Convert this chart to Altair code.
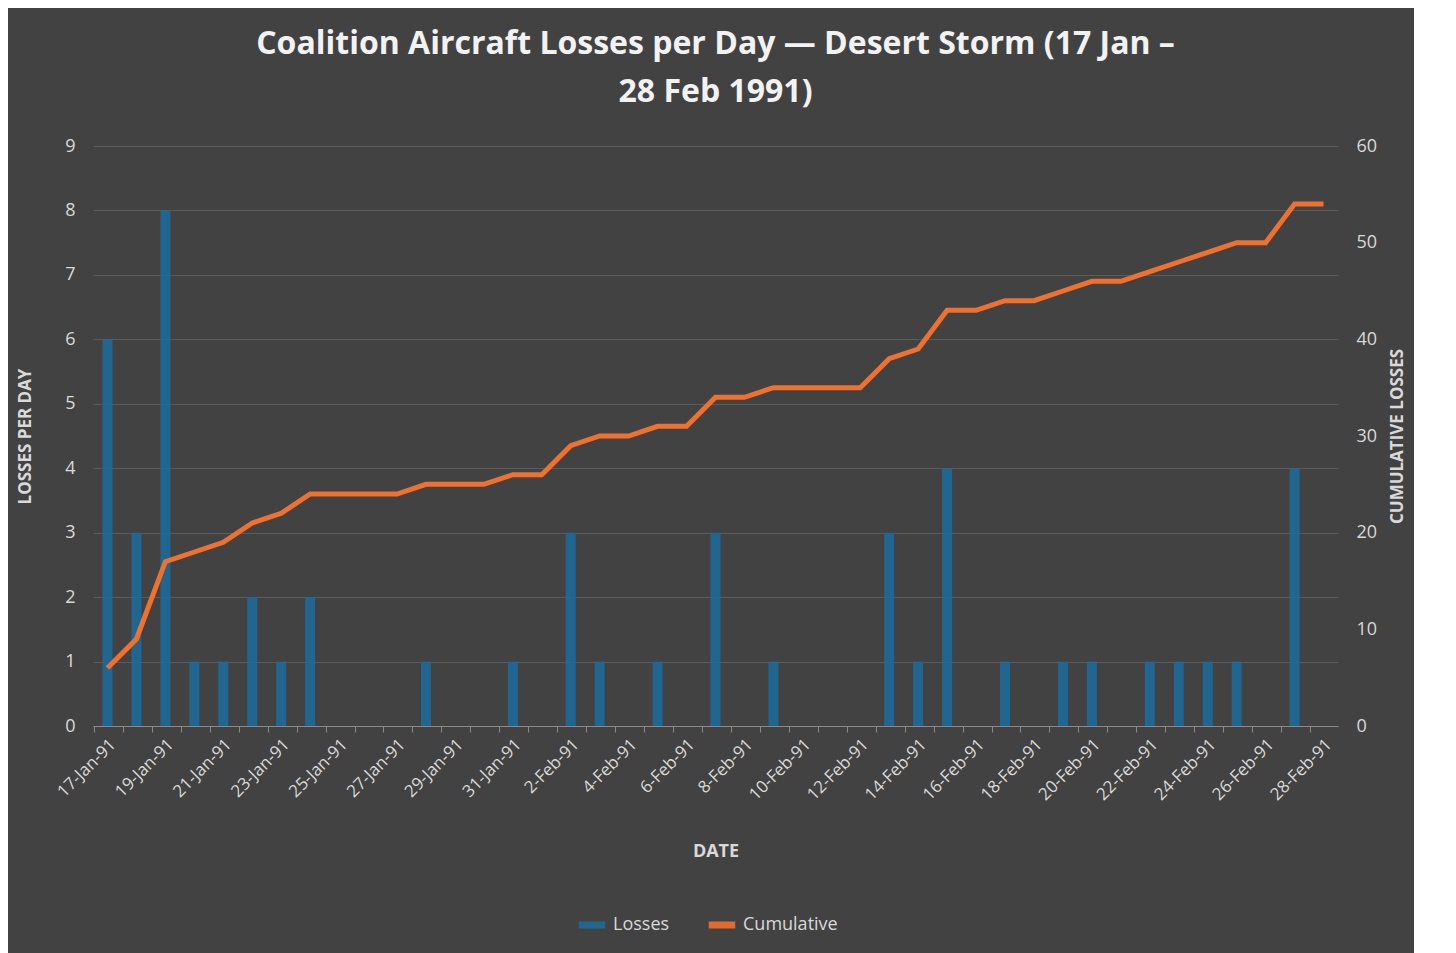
import altair as alt
import pandas as pd

dates = ["17-Jan-91","18-Jan-91","19-Jan-91","20-Jan-91","21-Jan-91","22-Jan-91","23-Jan-91","24-Jan-91","25-Jan-91","26-Jan-91","27-Jan-91","28-Jan-91","29-Jan-91","30-Jan-91","31-Jan-91",
         "1-Feb-91","2-Feb-91","3-Feb-91","4-Feb-91","5-Feb-91","6-Feb-91","7-Feb-91","8-Feb-91","9-Feb-91","10-Feb-91","11-Feb-91","12-Feb-91","13-Feb-91","14-Feb-91","15-Feb-91",
         "16-Feb-91","17-Feb-91","18-Feb-91","19-Feb-91","20-Feb-91","21-Feb-91","22-Feb-91","23-Feb-91","24-Feb-91","25-Feb-91","26-Feb-91","27-Feb-91","28-Feb-91"]
losses = [6,3,8,1,1,2,1,2,0,0,0,1,0,0,1,0,3,1,0,1,0,3,0,1,0,0,0,3,1,4,0,1,0,1,1,0,1,1,1,1,0,4,0]
cumulative = [6,9,17,18,19,21,22,24,24,24,24,25,25,25,26,26,29,30,30,31,31,34,34,35,35,35,35,38,39,43,43,44,44,45,46,46,47,48,49,50,50,54,54]

df = pd.DataFrame({"d": list(range(len(dates))), "Losses": losses, "Cumulative": cumulative,
                   "s1": "Losses", "s2": "Cumulative"})
labels = [x if i % 2 == 0 else "" for i, x in enumerate(dates)]
label_expr = "[" + ",".join("'%s'" % l for l in labels) + "][datum.value]"

txt = "#d9d9d9"
font = "Open Sans"
cscale = alt.Scale(domain=["Losses", "Cumulative"], range=["#1d6a99", "#f07030"])

xenc = alt.X("d:O", title="DATE", axis=alt.Axis(labelExpr=label_expr, labelAngle=-45, bandPosition=0,
             labelColor=txt, labelFontSize=17, labelFont=font, titleColor=txt, titleFontSize=18, titleFont=font,
             titleFontWeight="bold", domainColor="#8a8a8a", tickColor="#8a8a8a", tickSize=6, grid=False, titlePadding=40, labelPadding=4))

base = alt.Chart(df)
bars = base.mark_bar(size=10, opacity=0.9).encode(
    x=xenc,
    y=alt.Y("Losses:Q", scale=alt.Scale(domain=[0, 9]), title="LOSSES PER DAY",
            axis=alt.Axis(tickCount=9, orient="left", labelColor=txt, labelFontSize=18, labelFont=font, titleColor=txt,
                          titleFontSize=17, titleFont=font, titleFontWeight="bold", gridColor="#5c5c5c", domain=False,
                          ticks=False, labelPadding=18, titlePadding=30)),
    color=alt.Color("s1:N", scale=cscale,
                    legend=alt.Legend(orient="none", legendX=482, legendY=762, direction="horizontal", title=None,
                                      symbolType="stroke", symbolStrokeWidth=7, symbolSize=700, columnPadding=24,
                                      labelColor=txt, labelFontSize=18, labelFont=font)))
line = base.mark_line(strokeWidth=5, color="#f07030").encode(
    x=alt.X("d:O"),
    y=alt.Y("Cumulative:Q", scale=alt.Scale(domain=[0, 60]), title="CUMULATIVE LOSSES",
            axis=alt.Axis(values=[0, 10, 20, 30, 40, 50, 60], orient="right", labelColor=txt, labelFontSize=18, labelFont=font,
                          titleColor=txt, titleFontSize=17, titleFont=font, titleFontWeight="bold", grid=False,
                          titleAngle=270, domain=False, ticks=False, labelPadding=18, titlePadding=30)),
    color=alt.Color("s2:N", scale=cscale))

chart = alt.layer(bars, line).resolve_scale(y="independent").properties(
    width=1245, height=580, background="#424242",
    padding={"left": 8, "top": 20, "right": 8, "bottom": 30},
    title=alt.TitleParams(["Coalition Aircraft Losses per Day — Desert Storm (17 Jan –", "28 Feb 1991)"],
                          color="#f2f2f2", fontSize=32, font=font, fontWeight="bold", offset=28, lineHeight=48, anchor="middle"),
).configure_view(stroke=None)

chart.save("out.html", embed_options={"renderer": "svg", "actions": False})
